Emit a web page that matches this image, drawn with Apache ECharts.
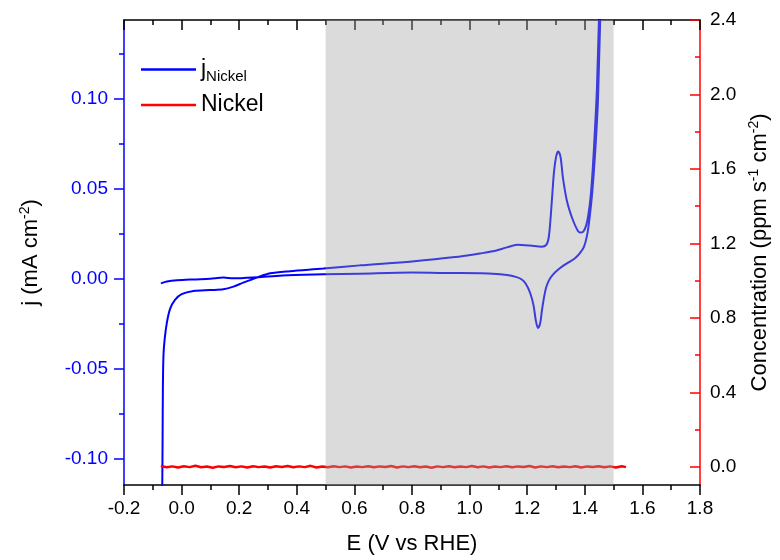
<!DOCTYPE html>
<html><head><meta charset="utf-8">
<script src="https://cdn.jsdelivr.net/npm/echarts@6/dist/echarts.min.js"></script>
<style>html,body{margin:0;padding:0;background:#fff}#c{width:780px;height:560px}</style>
</head><body><div id="c"></div>
<script>
// ---- CV curve (j vs E), in scan order ----
const cvE = [-0.068,-0.067,-0.066,-0.065,-0.063,-0.059,-0.051,-0.040,-0.023,0.000,0.041,0.099,0.145,0.180,0.214,0.261,0.307,0.376,0.492,0.619,0.800,0.950,1.036,1.081,1.130,1.165,1.210,1.250,1.266,1.274,1.280,1.286,1.293,1.301,1.308,1.316,1.324,1.338,1.356,1.373,1.383,1.394,1.404,1.412,1.420,1.428,1.436,1.442,1.449,1.462,
  1.446,1.436,1.426,1.417,1.408,1.397,1.383,1.365,1.338,1.310,1.290,1.276,1.266,1.258,1.251,1.245,1.2375,1.230,1.222,1.210,1.195,1.180,1.160,1.130,1.081,1.036,0.900,0.800,0.619,0.492,0.350,0.261,0.180,0.145,0.099,0.041,-0.016,-0.051,-0.072];
const cvJ = [-0.125,-0.113,-0.089,-0.061,-0.043,-0.034,-0.0245,-0.017,-0.012,-0.0088,-0.0070,-0.0065,-0.0061,-0.0046,-0.0024,0.0004,0.0028,0.0040,0.0054,0.0072,0.0094,0.0118,0.0138,0.0150,0.0172,0.0186,0.0182,0.0176,0.0185,0.0220,0.0310,0.0440,0.0590,0.0680,0.0705,0.0672,0.0560,0.0430,0.0335,0.0272,0.0254,0.0258,0.0290,0.0350,0.0450,0.0620,0.0850,0.1050,0.1430,0.2000,
  0.1000,0.0700,0.0480,0.0340,0.0240,0.0175,0.0140,0.0110,0.0083,0.0052,0.0022,-0.0010,-0.0050,-0.0110,-0.0180,-0.0250,-0.0276,-0.0235,-0.0150,-0.0080,-0.0030,-0.0005,0.0008,0.0018,0.0026,0.0028,0.0030,0.0032,0.0026,0.0022,0.0016,0.0006,0.0000,0.0004,-0.0002,-0.0006,-0.0011,-0.0018,-0.0028];

// ---- Nickel concentration vs E ----
const niE = [-0.072,-0.052,-0.032,-0.012,0.008,0.028,0.048,0.068,0.088,0.108,0.128,0.148,0.168,0.188,0.208,0.228,0.248,0.268,0.288,0.308,0.328,0.348,0.368,0.388,0.408,0.428,0.448,0.468,0.488,0.508,0.528,0.548,0.568,0.588,0.608,0.628,0.648,0.668,0.688,0.708,0.728,0.748,0.768,0.788,0.808,0.828,0.848,0.868,0.888,0.908,0.928,0.948,0.968,0.988,1.008,1.028,1.048,1.068,1.088,1.108,1.128,1.148,1.168,1.188,1.208,1.228,1.248,1.268,1.288,1.308,1.328,1.348,1.368,1.388,1.408,1.428,1.448,1.468,1.488,1.508,1.528,1.543];
const niC = [0.004,-0.003,0.002,-0.004,0.003,-0.002,0.005,-0.003,0.001,-0.005,0.002,-0.001,0.004,-0.003,0.002,-0.004,0.003,-0.002,0.001,-0.004,0.003,-0.001,0.004,-0.003,0.002,-0.002,0.005,-0.004,0.001,-0.003,0.003,-0.002,0.002,-0.004,0.001,-0.002,0.003,-0.003,0.002,-0.001,0.004,-0.004,0.002,-0.002,0.003,-0.003,0.001,-0.005,0.002,-0.002,0.003,-0.003,0.001,-0.002,0.004,-0.003,0.002,-0.004,0.001,-0.002,0.003,-0.003,0.002,-0.001,0.004,-0.004,0.002,-0.002,0.003,-0.003,0.001,-0.002,0.003,-0.004,0.002,-0.001,0.003,-0.003,0.002,-0.004,0.003,-0.002];

// ---- axes / ticks ----
const xRange = [-0.2, 1.8];
const xStep = 0.2;
const jRange = [-0.1148, 0.1435];
const jMajor = [-0.10, -0.05, 0.00, 0.05, 0.10];
const jMinor = [-0.075, -0.025, 0.025, 0.075, 0.125];
const cRange = [-0.098, 2.4];
const cMajor = [0.0, 0.4, 0.8, 1.2, 1.6, 2.0, 2.4];
const cMinor = [0.2, 0.6, 1.0, 1.4, 1.8, 2.2];
const shade = [0.5, 1.5];

const FONT = 'Liberation Sans, Arial, sans-serif';
const cvData = cvE.map((e, i) => [e, cvJ[i]]);
const niData = niE.map((e, i) => [e, niC[i]]);

const chart = echarts.init(document.getElementById('c'), null, {renderer: 'canvas'});
chart.setOption({
  animation: false,
  backgroundColor: '#fff',
  textStyle: {fontFamily: FONT},
  grid: {left: 124, right: 80, top: 20, bottom: 75, containLabel: false, outerBoundsMode: 'none'},
  legend: {
    data: ['jNickel', 'Nickel'],
    orient: 'vertical', left: 141, top: 58, padding: 0, itemGap: 9,
    icon: 'rect', itemWidth: 55, itemHeight: 2.5,
    formatter: n => n === 'jNickel' ? '{a|j}{b|Nickel}' : '{a|Nickel}',
    textStyle: {
      fontFamily: FONT, fontSize: 23, color: '#000',
      rich: {
        a: {fontFamily: FONT, fontSize: 23, lineHeight: 30, color: '#000'},
        b: {fontFamily: FONT, fontSize: 15, lineHeight: 12, verticalAlign: 'bottom', color: '#000'}
      }
    }
  },
  xAxis: [{
    type: 'value', position: 'bottom', min: xRange[0], max: xRange[1], interval: xStep,
    axisLine: {onZero: false, lineStyle: {color: '#000', width: 1.5}},
    axisTick: {length: 10, lineStyle: {color: '#000', width: 1.5}},
    minorTick: {show: true, splitNumber: 2, length: 5, lineStyle: {color: '#000', width: 1.5}},
    splitLine: {show: false}, minorSplitLine: {show: false},
    axisLabel: {fontSize: 19, color: '#000', margin: 14, fontFamily: FONT, formatter: v => v.toFixed(1)},
    name: 'E (V vs RHE)', nameLocation: 'middle', nameGap: 48,
    nameTextStyle: {fontSize: 22, color: '#000', fontFamily: FONT}
  }, {
    type: 'value', position: 'top', min: xRange[0], max: xRange[1], interval: xStep,
    axisLine: {onZero: false, lineStyle: {color: '#000', width: 1.5}},
    axisTick: {inside: true, length: 10, lineStyle: {color: '#000', width: 1.5}},
    minorTick: {show: true, splitNumber: 2, length: 5, lineStyle: {color: '#000', width: 1.5}},
    splitLine: {show: false}, axisLabel: {show: false}
  }],
  yAxis: [{
    type: 'value', position: 'left', offset: 0, min: jRange[0], max: jRange[1],
    axisLine: {show: true, onZero: false, lineStyle: {color: '#0000ff', width: 1.5}},
    axisTick: {show: true, customValues: jMajor, length: 10, lineStyle: {color: '#0000ff', width: 1.5}},
    axisLabel: {customValues: jMajor, fontSize: 19, color: '#0000ff', margin: 16, fontFamily: FONT, formatter: v => v.toFixed(2)},
    splitLine: {show: false},
    name: 'j (mA cm{sup|-2})', nameLocation: 'middle', nameGap: 80, nameRotate: 90,
    nameTextStyle: {fontSize: 22, color: '#000', fontFamily: FONT, lineHeight: 26,
      rich: {sup: {fontSize: 14, lineHeight: 14, verticalAlign: 'top', color: '#000', fontFamily: FONT}}}
  }, {
    type: 'value', position: 'left', offset: 0, min: jRange[0], max: jRange[1],
    axisLine: {show: false, onZero: false},
    axisTick: {show: true, customValues: jMinor, length: 5, lineStyle: {color: '#0000ff', width: 1.5}},
    axisLabel: {show: false}, splitLine: {show: false}
  }, {
    type: 'value', position: 'right', offset: 0, min: cRange[0], max: cRange[1],
    axisLine: {show: true, onZero: false, lineStyle: {color: '#ff0000', width: 1.5}},
    axisTick: {show: true, inside: true, customValues: cMajor, length: 10, lineStyle: {color: '#ff0000', width: 1.5}},
    axisLabel: {customValues: cMajor, fontSize: 19, color: '#000', margin: 10, fontFamily: FONT, formatter: v => v.toFixed(1)},
    splitLine: {show: false},
    name: 'Concentration (ppm s{sup|-1} cm{sup|-2})', nameLocation: 'middle', nameGap: 44, nameRotate: 90,
    nameTextStyle: {fontSize: 22, color: '#000', fontFamily: FONT, lineHeight: 26,
      rich: {sup: {fontSize: 14, lineHeight: 14, verticalAlign: 'top', color: '#000', fontFamily: FONT}}}
  }, {
    type: 'value', position: 'right', offset: 0, min: cRange[0], max: cRange[1],
    axisLine: {show: false, onZero: false},
    axisTick: {show: true, inside: true, customValues: cMinor, length: 5, lineStyle: {color: '#ff0000', width: 1.5}},
    axisLabel: {show: false}, splitLine: {show: false}
  }],
  series: [{
    name: 'jNickel', type: 'line', xAxisIndex: 0, yAxisIndex: 0, data: cvData,
    symbol: 'none', smooth: 0.3, clip: true, z: 2,
    lineStyle: {color: '#0000ff', width: 2}, itemStyle: {color: '#0000ff'}
  }, {
    name: 'Nickel', type: 'line', xAxisIndex: 0, yAxisIndex: 2, data: niData,
    symbol: 'none', clip: true, z: 2,
    lineStyle: {color: '#ff0000', width: 2.5}, itemStyle: {color: '#ff0000'}
  }, {
    name: 'shade', type: 'line', xAxisIndex: 0, yAxisIndex: 0, data: [], z: 10,
    markArea: {silent: true, z: 10, itemStyle: {color: 'rgba(160,160,160,0.38)'},
      data: [[{xAxis: shade[0]}, {xAxis: shade[1]}]]}
  }]
});
</script></body></html>
